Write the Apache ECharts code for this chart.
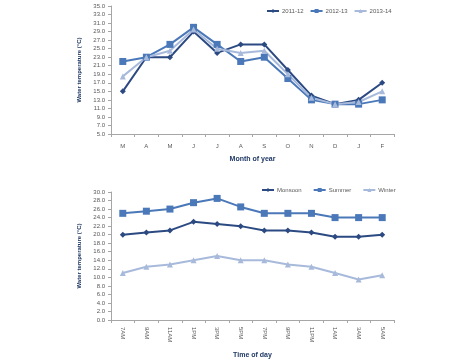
<!DOCTYPE html>
<html><head><meta charset="utf-8">
<script src="https://cdn.jsdelivr.net/npm/echarts@6/dist/echarts.min.js"></script>
<style>html,body{margin:0;padding:0;background:#fff}#c{width:474px;height:361px}</style>
</head><body><div id="c"></div>
<script>
const months = ['M','A','M','J','J','A','S','O','N','D','J','F'];
const s2011 = [15,23,23,29,24,26,26,20,14,12,13,17];
const s2012 = [22,23,26,30,26,22,23,18,13,12,12,13];
const s2013 = [18.5,23,24.5,29.5,25,24,24.5,19,13.5,12,12.5,15];
const times = ['7AM','9AM','11AM','1PM','3PM','5PM','7PM','9PM','11PM','1AM','3AM','5AM'];
const monsoon = [20,20.5,21,23,22.5,22,21,21,20.5,19.5,19.5,20];
const summer = [25,25.5,26,27.5,28.5,26.5,25,25,25,24,24,24];
const winter = [11,12.5,13,14,15,14,14,13,12.5,11,9.5,10.5];
const topTicks = {min:5, max:35, interval:2};
const botTicks = {min:0, max:30, interval:2};

const C1='#2c4a82', C2='#4a78b8', C3='#a8badb';
const axisCol='#a6a6a6', labCol='#595959', nameCol='#1f3864';
const ff='Liberation Sans, Arial, sans-serif';
function yAx(gi, t){
  return {type:'value', gridIndex:gi, min:t.min, max:t.max, interval:t.interval,
    name:'Water temperature (\u00b0C)', nameLocation:'middle', nameGap:24,
    nameTextStyle:{fontSize:6, fontWeight:'bold', color:nameCol, fontFamily:ff},
    axisLine:{show:true, lineStyle:{color:axisCol}}, axisTick:{show:true, length:3, lineStyle:{color:axisCol}},
    splitLine:{show:false},
    axisLabel:{fontSize:6, color:labCol, margin:6, fontFamily:ff, formatter:v=>v.toFixed(1)}};
}
function xAx(gi, cats, name, rot, gap){
  return {type:'category', gridIndex:gi, data:cats, boundaryGap:true,
    name:name, nameLocation:'middle', nameGap:gap,
    nameTextStyle:{fontSize:7, fontWeight:'bold', color:nameCol, fontFamily:ff},
    axisLine:{lineStyle:{color:axisCol}}, axisTick:{show:true, length:3, lineStyle:{color:axisCol}},
    axisLabel:{fontSize:6, color:labCol, margin:rot?7:9, rotate:rot, fontFamily:ff}};
}
function ser(name, data, gi, color, sym, size){
  return {name:name, type:'line', xAxisIndex:gi, yAxisIndex:gi, data:data,
    symbol:sym, symbolSize:size, lineStyle:{color:color, width:2},
    itemStyle:{color:color}, animation:false};
}
const chart = echarts.init(document.getElementById('c'));
chart.setOption({
  animation:false,
  grid:[{left:111, right:80, top:6, height:128},{left:111, right:80, top:192, height:128}],
  legend:[
    {top:3, left:261, itemWidth:12, itemHeight:5, itemGap:6, textStyle:{fontSize:6, color:labCol, fontFamily:ff, padding:[0,0,0,-2]},
     data:['2011-12','2012-13','2013-14']},
    {top:182, left:256, itemWidth:12, itemHeight:5, itemGap:11, textStyle:{fontSize:6, color:labCol, fontFamily:ff, padding:[0,0,0,-2]},
     data:['Monsoon','Summer','Winter']}
  ],
  xAxis:[xAx(0, months, 'Month of year', 0, 22), xAx(1, times, 'Time of day', -90, 32)],
  yAxis:[yAx(0, topTicks), yAx(1, botTicks)],
  series:[
    ser('2011-12', s2011, 0, C1, 'diamond', 6),
    ser('2012-13', s2012, 0, C2, 'rect', 7),
    ser('2013-14', s2013, 0, C3, 'triangle', 6),
    ser('Monsoon', monsoon, 1, C1, 'diamond', 6),
    ser('Summer', summer, 1, C2, 'rect', 7),
    ser('Winter', winter, 1, C3, 'triangle', 6)
  ]
});
</script></body></html>
